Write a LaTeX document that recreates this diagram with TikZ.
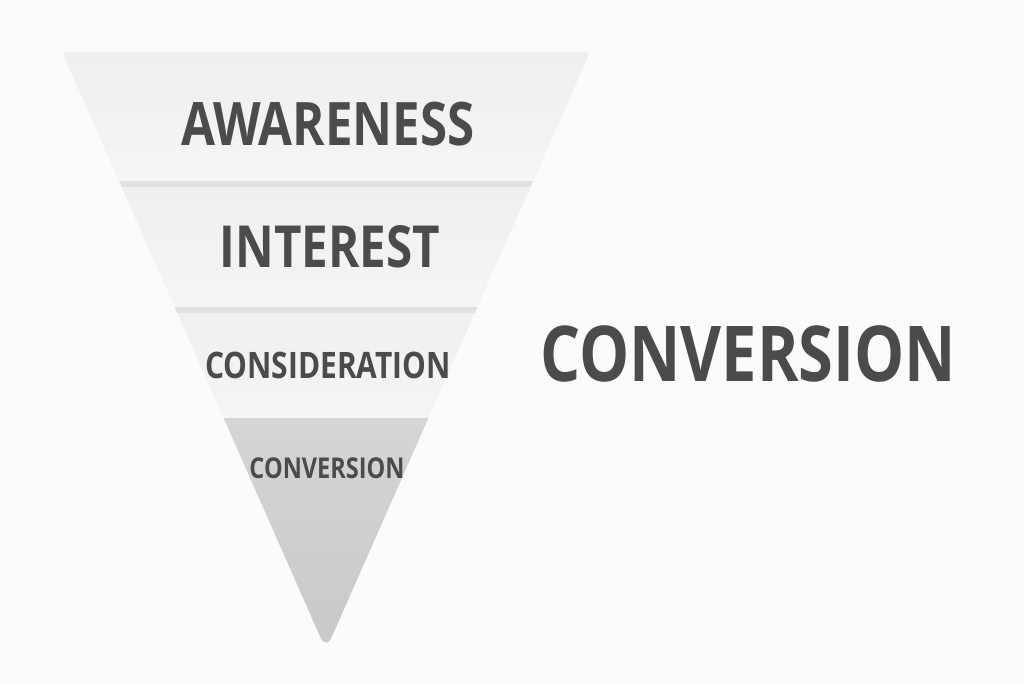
\documentclass[tikz,border=0pt]{standalone}
\usepackage{fontspec}
\setmainfont{Open Sans}
\newfontfamily\stagefont[FakeStretch=0.82]{Open Sans}
\usetikzlibrary{positioning}

\definecolor{paper}{HTML}{FBFBFB}
\definecolor{bandtop}{HTML}{EFEFEF}
\definecolor{bandlow}{HTML}{F5F5F5}
\definecolor{seam}{HTML}{E1E1E1}
\definecolor{basetop}{HTML}{D5D5D5}
\definecolor{baselow}{HTML}{C8C8C8}
\definecolor{ink}{HTML}{4B4B4B}

\begin{document}
\begin{tikzpicture}[x=1pt, y=-1pt,
  stagetext/.style={text=ink, inner sep=0pt, anchor=base}]
	% Canvas
	\fill [paper] (0,0) rectangle (1024,683);
	\useasboundingbox (0,0) rectangle (1024,683);

	% Funnel bands, clipped to the funnel outline
	\begin{scope}
		\clip [rounded corners=5pt] (62,52) -- (590,52) [rounded corners=14pt] -- (326,650) [rounded corners=5pt] -- cycle;
		\shade [top color=bandtop, bottom color=bandlow] (0,52) rectangle (1024,181);
		\fill  [seam] (0,181) rectangle (1024,187);
		\shade [top color=bandtop, bottom color=bandlow] (0,187) rectangle (1024,307);
		\fill  [seam] (0,307) rectangle (1024,313);
		\shade [top color=bandtop, bottom color=bandlow] (0,313) rectangle (1024,418);
		\shade [top color=basetop, bottom color=baselow] (0,418) rectangle (1024,660);
	\end{scope}

	% Stage labels {awareness, interest, consideration, conversion}
	\node [stagetext, font=\stagefont\bfseries\fontsize{60}{60}\selectfont]   (awareness)     at (328,145) {AWARENESS};
	\node [stagetext, font=\stagefont\bfseries\fontsize{58}{58}\selectfont]   (interest)      at (330,267) {INTEREST};
	\node [stagetext, font=\stagefont\bfseries\fontsize{36.5}{37}\selectfont] (consideration) at (328,378) {CONSIDERATION};
	\node [stagetext, font=\stagefont\bfseries\fontsize{28.7}{29}\selectfont] (conversion)    at (327,478) {CONVERSION};

	% Side heading
	\node [stagetext, font=\stagefont\bfseries\fontsize{77}{77}\selectfont] (heading) at (748,381) {CONVERSION};
\end{tikzpicture}
\end{document}
